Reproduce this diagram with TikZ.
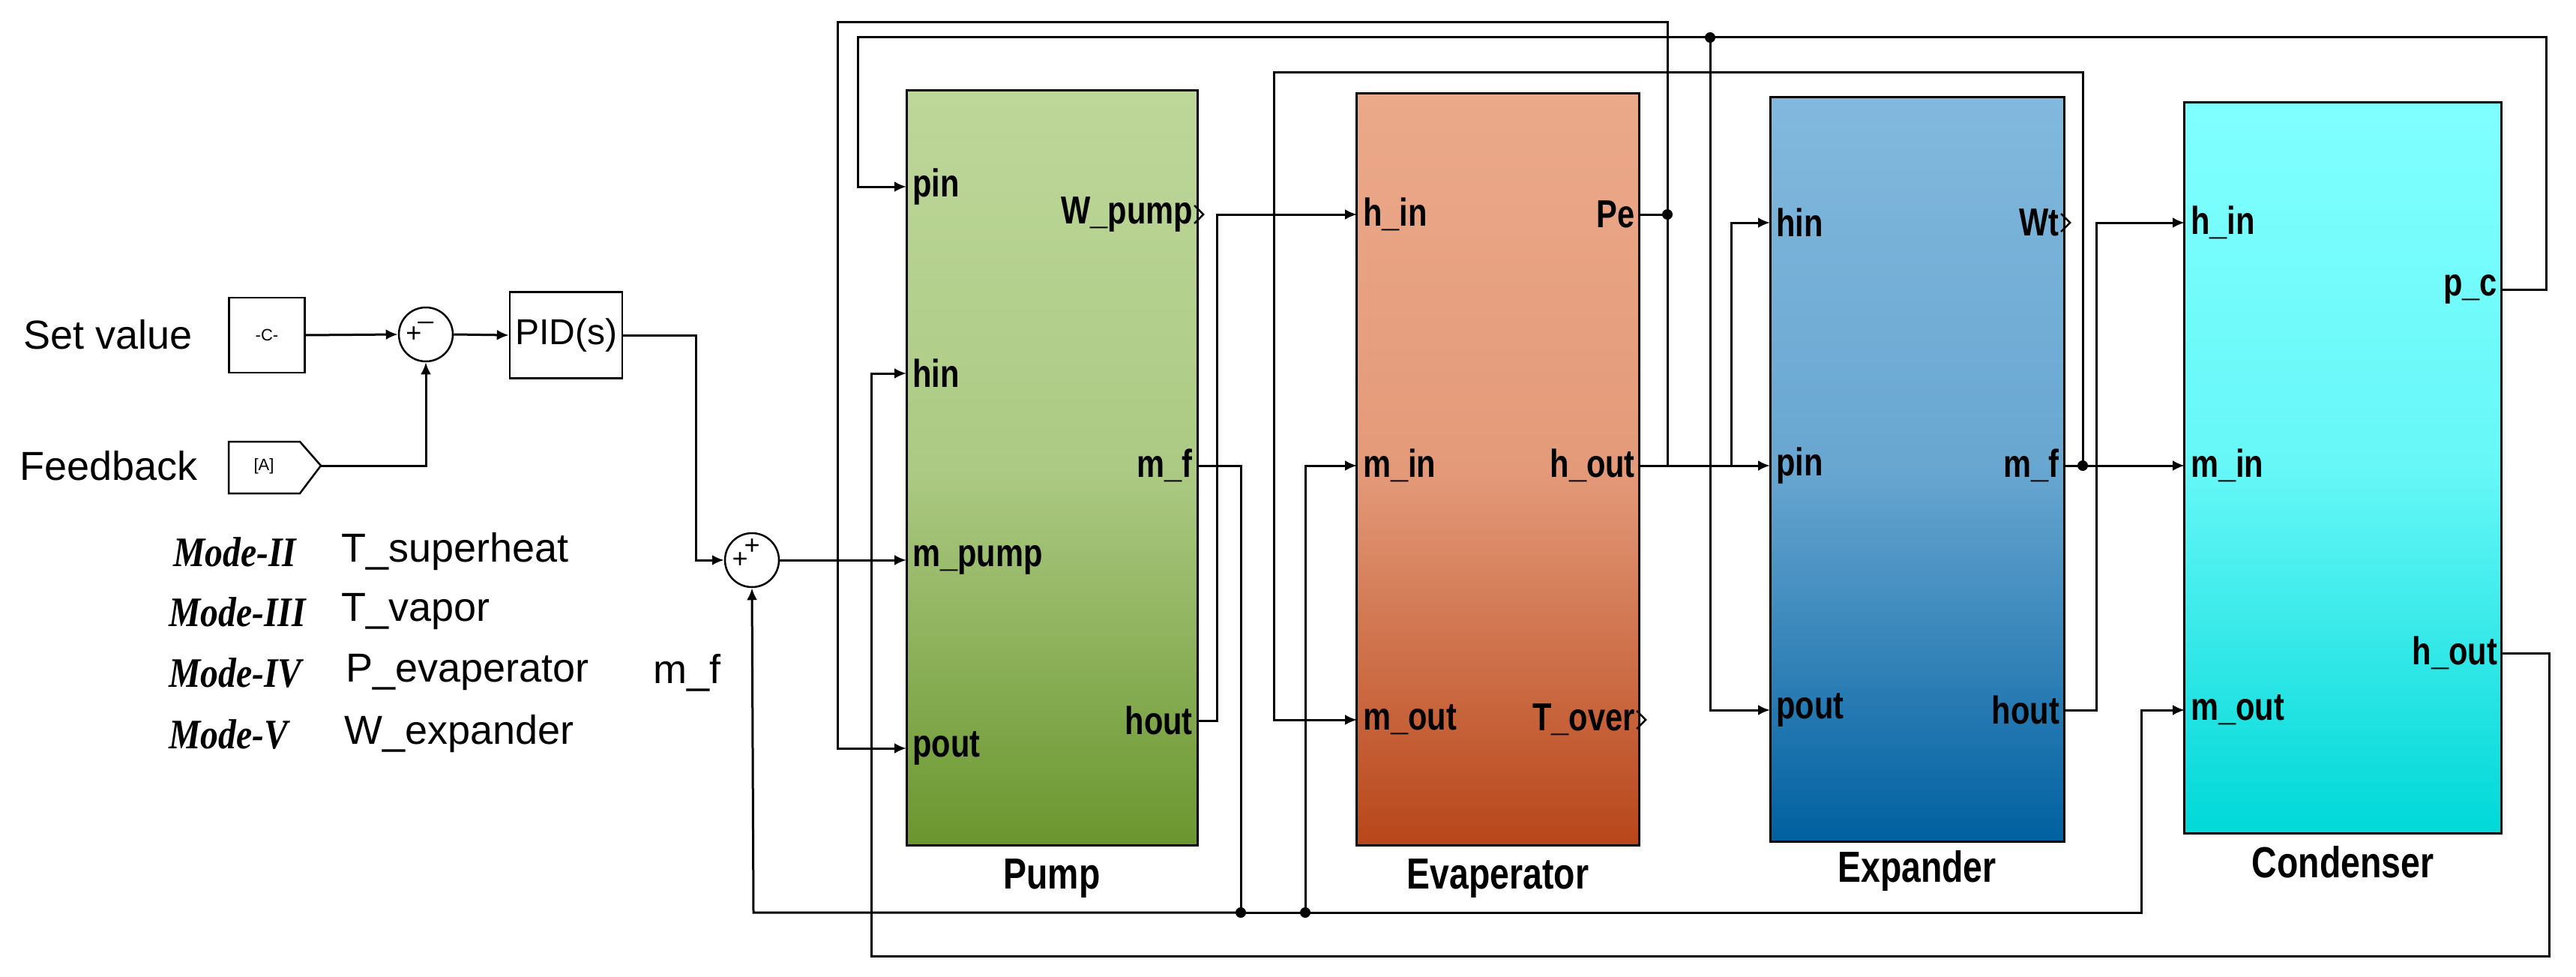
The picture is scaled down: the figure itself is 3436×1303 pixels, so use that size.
\documentclass[tikz,border=0pt]{standalone}
\usepackage{fontspec}
\setmainfont{Liberation Sans}
\newfontfamily\portfont{Liberation Sans}[FakeStretch=0.8]
\newfontfamily\modefont{Liberation Serif}[FakeStretch=0.85]
\usetikzlibrary{arrows.meta}
\definecolor{pumpT}{HTML}{BDD799}\definecolor{pumpB}{HTML}{6A962E}
\definecolor{evT}{HTML}{EBA98A}\definecolor{evB}{HTML}{B8461A}
\definecolor{exT}{HTML}{82B8DD}\definecolor{exB}{HTML}{0060A0}
\definecolor{coT}{HTML}{80FFFF}\definecolor{coB}{HTML}{00D8D8}
\begin{document}
\begin{tikzpicture}[x=1pt,y=-1pt,
  w/.style={line width=3pt},
  arr/.style={w,-{Latex[length=16pt,width=14pt]}},
  blk/.style={draw,line width=3pt,inner sep=0pt},
  port/.style={font=\portfont\bfseries\fontsize{52}{52}\selectfont,inner sep=0pt},
  ttl/.style={font=\portfont\bfseries\fontsize{58}{58}\selectfont},
  sm/.style={circle,draw,line width=2.5pt,minimum size=72pt,inner sep=0pt},
  dot/.style={circle,fill,inner sep=0pt,minimum size=14pt},
  big/.style={font=\fontsize{54}{54}\selectfont},
  mode/.style={font=\modefont\bfseries\itshape\fontsize{56}{56}\selectfont},
  chev/.style={line width=2.5pt}]
\useasboundingbox (0,0) rectangle (3436,1303);
% blocks
\node[blk,minimum width=388pt,minimum height=1007pt,top color=pumpT,bottom color=pumpB,middle color=pumpT!80!pumpB] (pump) at (1403,624) {};
\node[blk,minimum width=377pt,minimum height=1003pt,top color=evT,bottom color=evB,middle color=evT!85!evB] (evap) at (1998,626) {};
\node[blk,minimum width=392pt,minimum height=993pt,top color=exT,bottom color=exB,middle color=exT!80!exB] (expa) at (2557,626) {};
\node[blk,minimum width=423pt,minimum height=975pt,top color=coT,bottom color=coB,middle color=coT!80!coB] (cond) at (3125,624) {};
\node[ttl] (tp) at (1403,1172) {Pump};
\node[ttl] (te) at (1998,1172) {Evaperator};
\node[ttl] (tx) at (2557,1161) {Expander};
\node[ttl] (tc) at (3125,1150) {Condenser};
% port coordinates
\coordinate (pPin) at (1209,249);\coordinate (pHin) at (1209,498);\coordinate (pMp) at (1209,747);\coordinate (pPout) at (1209,998);
\coordinate (pW) at (1597,286);\coordinate (pMf) at (1597,621);\coordinate (pHout) at (1597,961);
\coordinate (eHin) at (1810,286);\coordinate (eMin) at (1810,621);\coordinate (eMout) at (1810,960);
\coordinate (ePe) at (2187,286);\coordinate (eHout) at (2187,621);\coordinate (eT) at (2187,960);
\coordinate (xHin) at (2361,297);\coordinate (xPin) at (2361,621);\coordinate (xPout) at (2361,947);
\coordinate (xWt) at (2753,297);\coordinate (xMf) at (2753,621);\coordinate (xHout) at (2753,947);
\coordinate (cHin) at (2914,297);\coordinate (cMin) at (2914,621);\coordinate (cMout) at (2914,947);
\coordinate (cPc) at (3337,386);\coordinate (cHout) at (3337,871);
% port labels
\foreach \c/\t in {pPin/pin,pHin/hin,pMp/m\_pump,pPout/pout,eHin/h\_in,eMin/m\_in,eMout/m\_out,xHin/hin,xPin/pin,xPout/pout,cHin/h\_in,cMin/m\_in,cMout/m\_out}
  \node[port,anchor=west] at ([xshift=8pt]\c) {\t};
\foreach \c/\t in {pMf/m\_f,pHout/hout,ePe/Pe,eHout/h\_out,xMf/m\_f,xHout/hout,cPc/p\_c,cHout/h\_out}
  \node[port,anchor=east] at ([xshift=-6pt]\c) {\t};
\foreach \c/\t in {pW/W\_pump,eT/T\_over,xWt/Wt}{
  \node[port,anchor=east] at ([xshift=-6pt]\c) {\t};
  \draw[chev] ([xshift=-4pt,yshift=-12pt]\c) -- ([xshift=8pt]\c) -- ([xshift=-4pt,yshift=12pt]\c);}
% left part
\node[big,anchor=center] (sv) at (144,446) {Set value};
\node[big,anchor=center] (fb) at (145,621) {Feedback};
\node[draw,line width=2.5pt,minimum width=101pt,minimum height=100pt,font=\fontsize{22}{22}\selectfont,inner sep=0pt] (cst) at (356,447) {-C-};
\node[sm] (s1) at (568,446) {};
\node at ([xshift=-16pt]s1.center) {\fontsize{36}{36}\selectfont +};
\node at ([yshift=18pt]s1.center) {\fontsize{36}{36}\selectfont \_};
\node[draw,line width=2.5pt,minimum width=150pt,minimum height=115pt,font=\fontsize{48}{48}\selectfont,inner sep=0pt] (pid) at (755,447) {PID(s)};
\draw[line width=2.5pt] (305,589) -- (400,589) -- (428,621) -- (400,658) -- (305,658) -- cycle;
\coordinate (tag) at (428,621);
\node[font=\fontsize{22}{22}\selectfont] (tagt) at (352,622) {[A]};
\node[sm] (s2) at (1003,747) {};
\node at ([xshift=-16pt]s2.center) {\fontsize{36}{36}\selectfont +};
\node at ([yshift=18pt]s2.center) {\fontsize{36}{36}\selectfont +};
\node[mode,anchor=west] (m2) at (228,736) {Mode-\textit{II}};
\node[mode,anchor=west] (m3) at (222,816) {Mode-\textit{III}};
\node[mode,anchor=west] (m4) at (222,897) {Mode-\textit{IV}};
\node[mode,anchor=west] (m5) at (222,979) {Mode-\textit{V}};
\node[big,anchor=west] at (452,736) {T\_superheat};
\node[big,anchor=west] at (452,816) {T\_vapor};
\node[big,anchor=west] at (458,897) {P\_evaperator};
\node[big,anchor=west] at (868,897) {m\_f};
\node[big,anchor=west] at (456,979) {W\_expander};
% connectors
\draw[arr] (cst.east) -- (s1.west);
\draw[arr] (s1.east) -- (pid.west);
\draw[arr] (tag) -| (s1.south);
\draw[arr] (pid.east) -| (928,747) -- (s2.west);
\draw[arr] (s2.east) -- (pMp);
\coordinate (d1) at (2224,286);\coordinate (d2) at (2281,50);\coordinate (d3) at (2778,621);
\coordinate (d4) at (1655,1217);\coordinate (d5) at (1741,1217);
\draw[w] (ePe) -- (d1);
\draw[arr] (d1) -- (2224,30) -- (1117,30) -- (1117,998) -- (pPout);
\draw[arr] (d1) -- (2224,621) -- (xPin);
\draw[arr] (eHout) -- (2309,621) -- (2309,297) -- (xHin);
\draw[arr] (cPc) -- (3396,386) -- (3396,50) -- (1144,50) -- (1144,249) -- (pPin);
\draw[arr] (d2) -- (2281,947) -- (xPout);
\draw[arr] (xMf) -- (d3) -- (cMin);
\draw[arr] (d3) -- (2778,97) -- (1699,97) -- (1699,960) -- (eMout);
\draw[arr] (xHout) -- (2796,947) -- (2796,297) -- (cHin);
\draw[arr] (cHout) -- (3400,871) -- (3400,1275) -- (1162,1275) -- (1162,498) -- (pHin);
\draw[w] (pMf) -- (1655,621) -- (d4);
\draw[arr] (d4) -- (1005,1217) -- (s2.south);
\draw[arr] (d4) -- (d5) -- (2856,1217) -- (2856,947) -- (cMout);
\draw[arr] (d5) -- (1741,621) -- (eMin);
\draw[arr] (pHout) -- (1623,961) -- (1623,286) -- (eHin);
\foreach \d in {d1,d2,d3,d4,d5} \node[dot] at (\d) {};
\end{tikzpicture}
\end{document}
